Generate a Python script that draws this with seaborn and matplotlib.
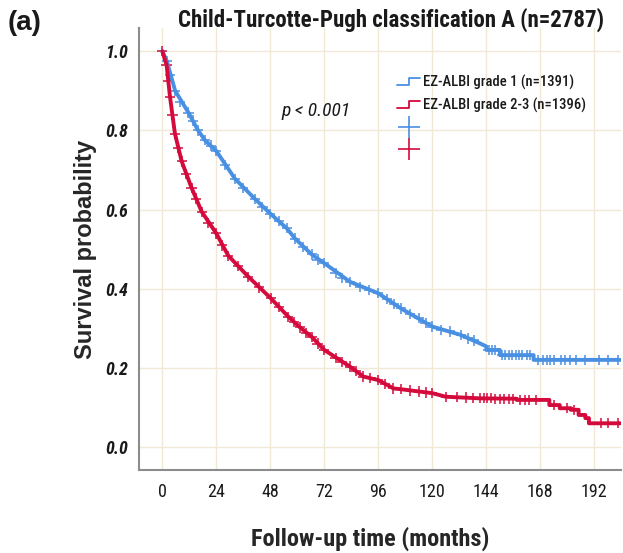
import numpy as np
import pandas as pd
import matplotlib
matplotlib.use("Agg")
import matplotlib.pyplot as plt
import seaborn as sns
from matplotlib.lines import Line2D
from matplotlib.legend_handler import HandlerBase

# Kaplan-Meier curves (months, survival)
blue_t = [0, 2, 5.7, 11.6, 15.9, 19, 24, 32.3, 41.2, 48, 55.3, 59, 66.4, 72, 83.4, 96, 106, 120,
          132.6, 141, 144, 144, 150, 150, 165, 165, 203.5]
blue_s = [1.0, 0.975, 0.90, 0.845, 0.80, 0.775, 0.748, 0.678, 0.627, 0.59, 0.553, 0.527, 0.487,
          0.465, 0.418, 0.389, 0.351, 0.305, 0.284, 0.263, 0.255, 0.246, 0.246, 0.233, 0.233,
          0.221, 0.221]
red_t = [0, 1.9, 3.4, 5.6, 8.6, 13, 17.5, 24, 29.3, 38.2, 48.3, 56, 61.2, 66.4, 72, 83.4, 89.3,
         96, 102.7, 106, 120, 126, 141, 157.5, 157.5, 172, 172, 176.6, 176.6, 181.6, 181.6,
         185, 185, 188, 188, 189.6, 189.6, 203.5]
red_s = [1.0, 0.965, 0.885, 0.792, 0.722, 0.655, 0.595, 0.540, 0.484, 0.431, 0.376, 0.330, 0.303,
         0.279, 0.246, 0.204, 0.179, 0.170, 0.149, 0.147, 0.137, 0.128, 0.124, 0.123, 0.120,
         0.120, 0.107, 0.107, 0.099, 0.099, 0.095, 0.095, 0.082, 0.082, 0.074, 0.074, 0.061, 0.061]

# censored observations (extra marks read along the curves and in the flat tails)
blue_cens_t = [3.5, 8, 13.5, 21.5, 28, 36, 44.5, 52, 62.5, 69, 77, 80, 88, 92, 100, 103,
               110, 114, 117, 124, 128, 136, 138.5,
               145, 146.5, 148, 151, 152.5, 154, 155.5, 157, 158.5, 160, 162, 163.5,
               167, 169, 171, 172.5, 174, 177, 179, 181, 184, 188, 194, 198, 202.5]
blue_cens_s = [0.94, 0.872, 0.825, 0.762, 0.712, 0.655, 0.607, 0.571, 0.505, 0.474, 0.441,
               0.428, 0.405, 0.398, 0.374, 0.362, 0.337, 0.326, 0.314, 0.297, 0.293, 0.275, 0.270,
               0.246, 0.246, 0.246, 0.233, 0.233, 0.233, 0.233, 0.233, 0.233, 0.233, 0.233, 0.233,
               0.221, 0.221, 0.221, 0.221, 0.221, 0.221, 0.221, 0.221, 0.221, 0.221, 0.221, 0.221,
               0.221]
red_cens_t = [2.6, 4.5, 7, 10.5, 15, 20.5, 26.5, 33.5, 43, 52, 58.5, 64, 69, 77, 80, 86,
              92.5, 99, 110, 114, 117, 131, 135, 138,
              141, 143, 144.5, 146, 148, 150, 152, 154, 156, 159, 161, 163, 166, 174, 180,
              183, 195, 198, 202.5]
red_cens_s = [0.925, 0.84, 0.755, 0.690, 0.628, 0.567, 0.510, 0.458, 0.404, 0.354, 0.316, 0.288,
              0.262, 0.225, 0.216, 0.193, 0.175, 0.160, 0.144, 0.141, 0.139, 0.127, 0.126, 0.125,
              0.124, 0.124, 0.124, 0.124, 0.123, 0.123, 0.123, 0.123, 0.123, 0.120, 0.120, 0.120,
              0.120, 0.107, 0.099, 0.095, 0.061, 0.061, 0.061]

groups = ["EZ-ALBI grade 1 (n=1391)", "EZ-ALBI grade 2-3 (n=1396)"]
colors = ["#4a90e2", "#d40a3c"]
x_ticks = [0, 24, 48, 72, 96, 120, 144, 168, 192]
y_ticks = [0.0, 0.2, 0.4, 0.6, 0.8, 1.0]

sns.set_style("white")
NARROW = ["Roboto Condensed", "Archivo Narrow", "DejaVu Sans"]
WIDE = ["Liberation Sans", "DejaVu Sans"]
plt.rcParams["font.family"] = NARROW
plt.rcParams["text.color"] = "#1a1a1a"

curves = pd.concat([
    pd.DataFrame({"t": blue_t, "s": blue_s, "g": groups[0]}),
    pd.DataFrame({"t": red_t, "s": red_s, "g": groups[1]}),
])
# censor marks: curve points in the smooth part plus the extra marks
smooth_blue = [(t, s) for t, s in zip(blue_t, blue_s) if 0 < t < 141]
smooth_red = [(t, s) for t, s in zip(red_t, red_s) if 0 < t < 141]
cens = pd.concat([
    pd.DataFrame({"t": [p[0] for p in smooth_blue] + blue_cens_t,
                  "s": [p[1] for p in smooth_blue] + blue_cens_s, "g": groups[0]}),
    pd.DataFrame({"t": [0] + [p[0] for p in smooth_red] + red_cens_t,
                  "s": [1.0] + [p[1] for p in smooth_red] + red_cens_s, "g": groups[1]}),
])
pal = dict(zip(groups, colors))

fig = plt.figure(figsize=(6.23, 5.53), dpi=100)
ax = fig.add_axes([0.223, 0.150, 0.774, 0.799])

for g in groups:
    d = curves[curves.g == g]
    sns.lineplot(x=d.t.values, y=d.s.values, ax=ax, color=pal[g], lw=2.8,
                 estimator=None, sort=False)
sns.scatterplot(data=cens, x="t", y="s", hue="g", palette=pal, marker="+", s=55,
                linewidth=1.1, ax=ax, legend=False)

ax.set_xlim(-10.4, 203.9)
ax.set_ylim(-0.057, 1.058)
ax.set_xticks(x_ticks)
ax.set_xticklabels([str(v) for v in x_ticks], fontsize=13)
ax.set_yticks(y_ticks)
ax.set_yticklabels([f"{v:.1f}" for v in y_ticks], fontsize=13, style="italic",
                   fontweight="bold")
ax.tick_params(axis="both", length=0, colors="#1a1a1a")
ax.tick_params(axis="y", pad=8)
ax.tick_params(axis="x", pad=9)
ax.grid(True, color="#efe9d6", lw=1)
for side in ["top", "right"]:
    ax.spines[side].set_visible(False)
for side in ["left", "bottom"]:
    ax.spines[side].set_color("#8c8c8c")
    ax.spines[side].set_linewidth(1.5)

ax.set_xlabel("Follow-up time (months)", fontsize=17.5, fontweight="bold")
ax.xaxis.set_label_coords(0.479, -0.128)
ax.set_ylabel("Survival probability", fontsize=17, fontweight="bold", family=WIDE)
ax.yaxis.set_label_coords(-0.087, 0.5)

ax.text(53, 0.85, "p < 0.001", fontsize=14, style="italic", va="center", ha="left")


class StepHandler(HandlerBase):
    def create_artists(self, legend, orig_handle, xdescent, ydescent, width, height,
                       fontsize, trans):
        x0 = -xdescent
        y0 = -ydescent
        xs = [x0, x0 + width * 0.5, x0 + width * 0.5, x0 + width]
        ys = [y0 + height * 0.1, y0 + height * 0.1, y0 + height * 0.8, y0 + height * 0.8]
        return [Line2D(xs, ys, color=orig_handle.get_color(), lw=1.3, transform=trans)]


h1 = Line2D([], [], color=colors[0])
h2 = Line2D([], [], color=colors[1])
h3 = Line2D([], [], color=colors[0], marker="+", ls="none", markersize=16, mew=1.2)
h4 = Line2D([], [], color=colors[1], marker="+", ls="none", markersize=16, mew=1.2)
ax.legend([h1, h2, h3, h4], [groups[0], groups[1], "", ""],
          handler_map={h1: StepHandler(), h2: StepHandler()},
          loc="upper left", bbox_to_anchor=(0.508, 0.925), frameon=False,
          handlelength=1.6, handletextpad=0.2, labelspacing=0.55,
          prop={"family": NARROW, "size": 10.5, "weight": "medium"})

fig.text(0.013, 0.958, "(a)", fontsize=20, fontweight="bold", family=WIDE, va="center")
fig.text(0.628, 0.965, "Child-Turcotte-Pugh classification A (n=2787)", fontsize=16.5,
         fontweight="bold", ha="center", va="center")

fig.savefig("out.png", dpi=100)
